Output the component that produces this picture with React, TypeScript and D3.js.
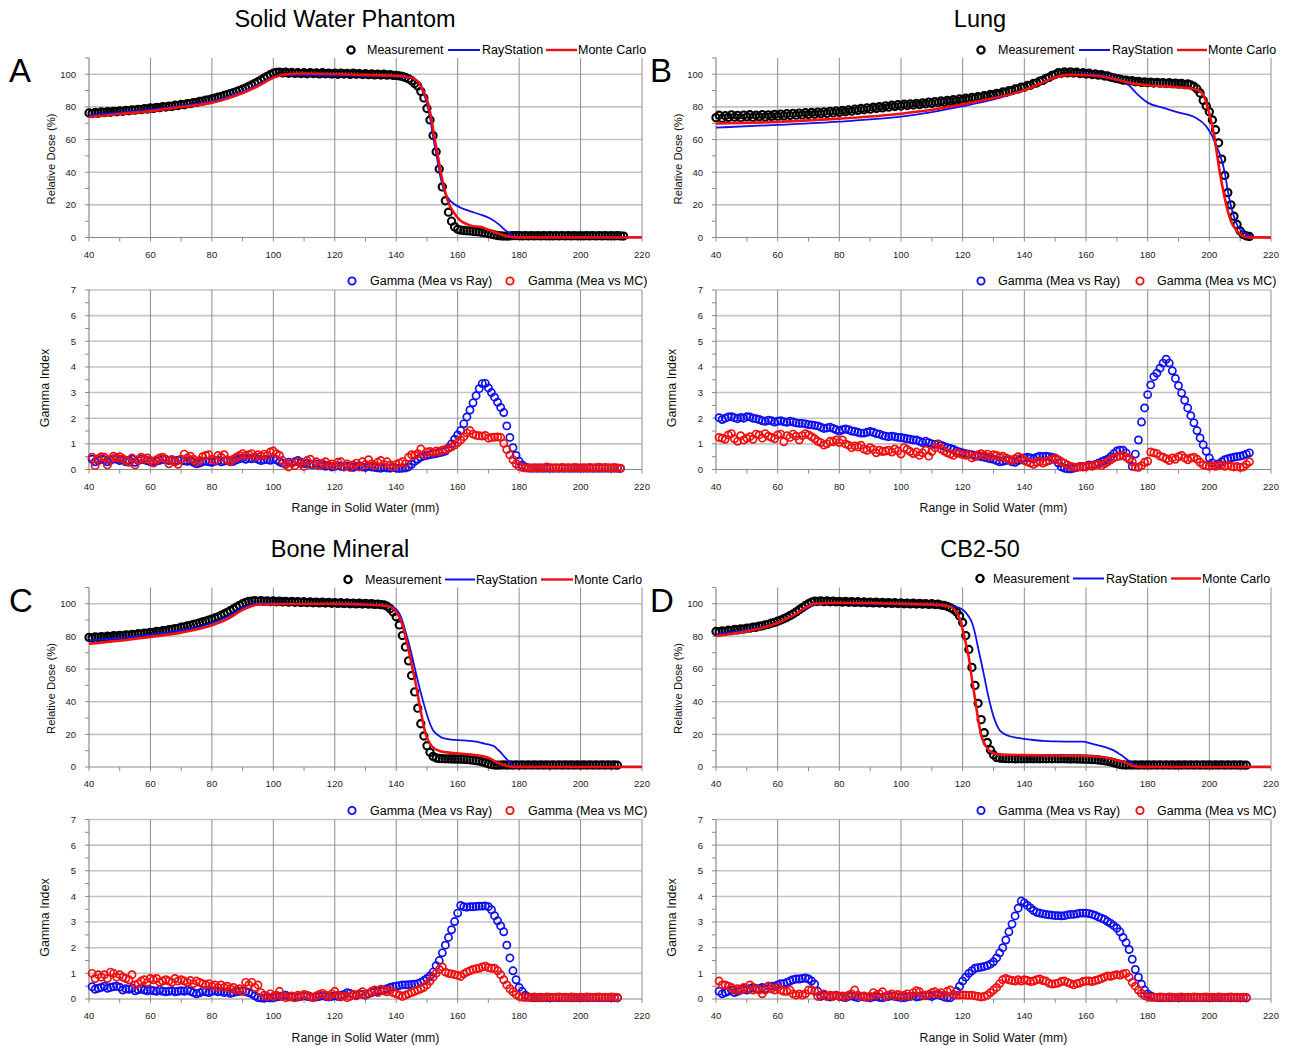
import React from 'react'
import * as d3 from 'd3'

// ---- measured depth dose (circles), one value per mm starting at *Start ----
const measAStart = 40
const measA = [
  76.3, 75.9, 76.6, 76.1, 76.9, 76.5, 77.1, 76.7, 77.3, 77.0,
  77.6, 77.3, 77.9, 77.6, 78.2, 78.0, 78.5, 78.3, 78.9, 78.7,
  79.3, 79.1, 79.7, 79.5, 80.1, 79.9, 80.5, 80.3, 81.0, 80.8,
  81.5, 81.3, 82.0, 82.0, 82.6, 82.7, 83.3, 83.5, 84.1, 84.3,
  84.9, 85.3, 85.9, 86.3, 87.0, 87.5, 88.1, 88.7, 89.4, 90.1,
  90.8, 91.6, 92.5, 93.4, 94.4, 95.4, 96.5, 97.6, 98.7, 99.7,
  100.6, 101.1, 101.3, 100.8, 101.2, 100.6, 101.1, 100.5, 101.0, 100.4,
  100.9, 100.3, 101.0, 100.4, 100.8, 100.2, 100.9, 100.3, 100.7, 100.1,
  100.6, 100.0, 100.7, 100.1, 100.5, 99.9, 100.6, 100.0, 100.4, 99.8,
  100.3, 99.7, 100.2, 99.6, 100.1, 99.5, 100.0, 99.4, 99.8, 99.3,
  99.3, 99.0, 98.6, 98.0, 97.2, 96.0, 94.3, 92.8, 89.5, 85.5,
  79.0, 72.0, 62.5, 52.5, 42.0, 31.0, 22.5, 15.5, 10.0, 6.5,
  5.0, 4.5, 4.3, 4.1, 4.0, 3.8, 3.6, 3.4, 3.1, 2.8,
  2.4, 2.0, 1.6, 1.2, 1.0, 0.9, 0.9, 1.0, 1.1, 1.1,
  1.1, 1.0, 1.1, 1.0, 1.1, 1.0, 1.1, 1.0, 1.1, 1.0,
  1.1, 1.0, 1.1, 1.0, 1.1, 1.0, 1.1, 1.0, 1.1, 1.0,
  1.1, 1.0, 1.1, 1.0, 1.1, 1.0, 1.1, 1.0, 1.1, 1.0,
  1.1, 1.0, 1.1, 1.0, 0.9,
]

const measBStart = 40
const measB = [
  73.4, 74.9, 73.0, 74.6, 73.5, 75.1, 73.7, 74.8, 73.3, 75.0,
  73.9, 75.2, 73.6, 74.9, 74.0, 75.3, 73.8, 75.1, 74.2, 75.4,
  74.3, 75.6, 74.5, 75.8, 74.7, 76.0, 74.9, 76.2, 75.1, 76.4,
  75.3, 76.6, 75.5, 76.8, 75.8, 77.0, 76.0, 77.3, 76.3, 77.5,
  76.6, 77.8, 77.0, 78.2, 77.4, 78.6, 77.8, 79.0, 78.2, 79.4,
  78.6, 79.8, 79.0, 80.2, 79.4, 80.6, 79.8, 81.0, 80.2, 81.4,
  80.5, 81.6, 80.8, 81.9, 81.1, 82.2, 81.4, 82.5, 81.8, 82.9,
  82.1, 83.2, 82.5, 83.6, 82.9, 84.0, 83.3, 84.4, 83.8, 84.9,
  84.2, 85.3, 84.7, 85.8, 85.2, 86.3, 85.8, 86.9, 86.5, 87.6,
  87.2, 88.3, 88.0, 89.1, 88.9, 90.0, 89.9, 91.0, 91.0, 92.1,
  92.0, 93.2, 93.2, 94.4, 94.6, 95.8, 96.2, 97.5, 98.0, 99.3,
  99.8, 100.9, 100.6, 101.4, 100.8, 101.5, 100.7, 101.2, 100.4, 100.9,
  100.1, 100.6, 99.8, 100.2, 99.4, 99.7, 98.9, 98.9, 98.2, 97.8,
  97.3, 97.0, 96.4, 96.4, 95.8, 96.0, 95.4, 95.6, 95.0, 95.3,
  94.8, 95.2, 94.6, 95.0, 94.5, 94.9, 94.3, 94.8, 94.2, 94.6,
  94.0, 94.4, 93.6, 94.0, 93.4, 92.5, 91.0, 88.5, 84.0, 80.5,
  77.0, 72.0, 66.0, 58.0, 48.0, 38.0, 27.5, 20.0, 13.0, 8.0,
  4.0, 1.8, 1.0, 0.6,
]

const measCStart = 40
const measC = [
  79.4, 79.0, 79.7, 79.3, 79.9, 79.5, 80.1, 79.8, 80.4, 80.1,
  80.6, 80.3, 80.9, 80.7, 81.2, 81.0, 81.6, 81.4, 82.0, 81.9,
  82.5, 82.4, 83.0, 82.9, 83.5, 83.5, 84.1, 84.2, 84.8, 84.9,
  85.6, 85.8, 86.4, 86.7, 87.3, 87.7, 88.3, 88.8, 89.4, 90.0,
  90.6, 91.3, 92.0, 92.9, 93.7, 94.7, 95.7, 96.8, 97.9, 99.0,
  100.0, 100.8, 101.4, 101.6, 101.9, 101.5, 101.9, 101.4, 101.8, 101.3,
  101.7, 101.2, 101.6, 101.1, 101.5, 101.0, 101.4, 100.9, 101.3, 100.8,
  101.2, 100.7, 101.1, 100.6, 101.0, 100.5, 100.9, 100.4, 100.8, 100.3,
  100.7, 100.2, 100.6, 100.1, 100.5, 100.0, 100.4, 99.9, 100.3, 99.8,
  100.2, 99.7, 100.0, 99.6, 99.8, 99.4, 99.3, 98.5, 97.0, 95.0,
  92.0, 87.0, 80.5, 73.5, 65.0, 56.0, 46.0, 36.0, 26.5, 19.0,
  13.0, 9.0, 6.5, 5.5, 5.2, 5.1, 5.0, 5.0, 4.9, 4.9,
  4.8, 4.8, 4.7, 4.6, 4.4, 4.2, 3.9, 3.6, 3.1, 2.6,
  2.0, 1.5, 1.2, 1.1, 1.2, 1.3, 1.2, 1.3, 1.2, 1.3,
  1.2, 1.3, 1.2, 1.3, 1.2, 1.3, 1.2, 1.3, 1.2, 1.3,
  1.2, 1.3, 1.2, 1.3, 1.2, 1.3, 1.2, 1.3, 1.2, 1.3,
  1.2, 1.3, 1.2, 1.3, 1.2, 1.3, 1.2, 1.3, 1.2, 1.3,
  1.2, 1.3, 1.1,
]

const measDStart = 40
const measD = [
  83.0, 82.7, 83.4, 83.1, 83.8, 83.5, 84.2, 84.0, 84.6, 84.5,
  85.1, 85.0, 85.6, 85.6, 86.3, 86.4, 87.1, 87.4, 88.1, 88.6,
  89.3, 90.0, 90.8, 91.7, 92.7, 93.8, 95.0, 96.3, 97.6, 98.9,
  100.0, 101.0, 101.6, 101.4, 101.8, 101.3, 101.7, 101.2, 101.6, 101.1,
  101.5, 101.0, 101.4, 100.9, 101.3, 100.8, 101.2, 100.7, 101.1, 100.6,
  101.0, 100.5, 100.9, 100.4, 100.8, 100.3, 100.7, 100.2, 100.6, 100.1,
  100.5, 100.0, 100.4, 99.9, 100.3, 99.8, 100.2, 99.7, 100.1, 99.6,
  100.0, 99.5, 99.7, 99.2, 99.0, 98.4, 97.5, 96.5, 95.0, 92.5,
  88.5, 80.5, 72.0, 61.0, 50.0, 39.0, 29.0, 21.0, 15.0, 10.5,
  7.5, 5.8, 5.5, 5.3, 5.2, 5.1, 5.1, 5.0, 5.1, 5.0,
  5.1, 5.0, 5.1, 5.0, 5.1, 5.0, 5.1, 5.0, 5.1, 5.0,
  5.1, 5.0, 5.1, 5.0, 5.0, 4.9, 5.0, 4.9, 4.9, 4.8,
  4.8, 4.7, 4.6, 4.5, 4.3, 4.1, 3.8, 3.5, 3.1, 2.6,
  2.1, 1.6, 1.3, 1.2, 1.3, 1.2, 1.3, 1.2, 1.3, 1.2,
  1.3, 1.2, 1.3, 1.2, 1.3, 1.2, 1.3, 1.2, 1.3, 1.2,
  1.3, 1.2, 1.3, 1.2, 1.3, 1.2, 1.3, 1.2, 1.3, 1.2,
  1.3, 1.2, 1.3, 1.2, 1.3, 1.2, 1.3, 1.2, 1.3, 1.2,
  1.3, 1.2, 1.1,
]

// ---- calculated dose curves, [depth mm, dose %] ----
const rayA = [
  [40, 75.0], [50, 76.6], [60, 78.3], [70, 80.6], [80, 83.6], [85, 86.0], [90, 89.4],
  [95, 93.6], [100, 98.2], [103, 99.5], [110, 99.4], [120, 99.2], [130, 99.0], [140, 98.6],
  [144, 98.0], [146, 96.8], [147.6, 94], [148.5, 90], [150, 82], [151.1, 72], [152.2, 59.6],
  [153.3, 48.4], [154.4, 37], [155.5, 29], [156.9, 24], [158.6, 20.8], [160.8, 18.4],
  [164, 16.1], [167.3, 14.1], [170.6, 11.6], [173.3, 8.2], [175.5, 4.5], [177.2, 2.0],
  [178.3, 0.8], [179.3, 0.3], [185, 0.2], [220, 0.2],
]
const mcA = [
  [40, 73.8], [50, 75.6], [60, 77.4], [70, 79.9], [80, 82.6], [85, 85.2], [90, 88.5],
  [95, 92.8], [100, 97.8], [103, 99.6], [110, 100.4], [120, 100.1], [130, 99.6], [140, 99.1],
  [145, 97.8], [147.6, 94], [148.7, 90], [150.4, 82], [151.5, 72], [152.6, 59.6],
  [153.7, 48.4], [154.8, 37], [155.8, 29], [156.9, 21.8], [158.6, 15.7], [160.8, 10.6],
  [163, 8.2], [165, 6.9], [167.3, 6.5], [169.5, 5.1], [171.7, 3.5], [173.9, 2.0],
  [176, 0.8], [178, 0.2], [180, 0.05], [220, 0],
]
const rayB = [
  [40, 67.3], [60, 69.0], [80, 71.0], [100, 74.0], [110, 76.8], [120, 80.4], [130, 84.6],
  [140, 90.3], [145, 94.0], [150, 98.0], [155, 99.8], [160, 100.0], [165, 99.4], [170, 97.2],
  [172, 95.8], [174, 93.0], [176.7, 87.7], [180, 82.6], [184.8, 79.5], [190.1, 76.5],
  [195.5, 73.4], [198.9, 68.3], [200.9, 62.2], [202.3, 56], [203.6, 50], [205, 39.7],
  [206.3, 25.4], [207.6, 15.1], [209.2, 7], [211.6, 2.5], [213.7, 0.8], [215, 0.2], [220, 0],
]
const mcB = [
  [40, 69.8], [60, 70.8], [80, 72.8], [100, 75.8], [110, 78.2], [120, 81.6], [130, 85.4],
  [140, 90.2], [145, 94.2], [150, 98.2], [155, 99.6], [160, 99.4], [165, 98.6], [170, 96.6],
  [175, 94.4], [180, 93.2], [190, 92.0], [195, 91.0], [197, 89.5], [198.2, 86.7],
  [200.2, 74.4], [201.6, 62.2], [202.9, 45.8], [204.2, 31.5], [205.6, 19.2], [207, 10],
  [209, 3.9], [211, 0.8], [213, 0.1], [220, 0],
]
const rayC = [
  [40, 77.5], [50, 79.0], [60, 81.0], [70, 83.6], [80, 88.2], [85, 92.0], [90, 97.5],
  [93, 99.8], [95, 100.2], [100, 100.2], [110, 100.0], [120, 99.6], [130, 99.2], [137, 98.8],
  [139, 97.8], [140, 96.5], [141, 94], [142, 89.5], [143, 83], [144, 76.5], [145, 69],
  [146, 61], [147, 53], [148, 45.5], [149, 38.5], [150, 32], [151, 26.5], [152, 22.5],
  [153, 20.4], [154, 19], [155, 17.8], [158, 16.8], [162, 16.3], [166, 15.5], [168, 14.7],
  [170, 13.8], [172, 12.5], [173, 10.8], [174, 9], [175, 6.8], [176, 4.8], [177, 2.8],
  [178, 1.0], [179, 0.3], [180, 0.2], [220, 0.2],
]
const mcC = [
  [40, 75.5], [50, 77.4], [60, 79.7], [70, 82.3], [80, 86.8], [85, 90.6], [90, 96.2],
  [93, 98.6], [95, 99.5], [100, 99.6], [110, 100.0], [120, 100.0], [130, 99.5], [137, 98.6],
  [139, 97], [140, 95], [141, 92], [142, 87], [143, 80], [144, 72], [145, 63], [146.1, 53.5],
  [147.9, 35], [149.5, 20.8], [151.6, 12.7], [154.3, 9.6], [158.4, 8.6], [164.5, 7.6],
  [168.7, 6.5], [170.5, 5.3], [172.1, 3.5], [174.8, 1.4], [176.5, 0.4], [178, 0.1], [220, 0],
]
const rayD = [
  [40, 81.2], [50, 83.8], [55, 85.6], [60, 88.3], [65, 92.5], [70, 98.0], [72, 99.8],
  [75, 100.2], [80, 100.2], [90, 100.0], [100, 99.6], [110, 99.2], [115, 98.6], [118, 98],
  [120, 96.3], [121, 94.5], [122, 92], [123, 88.5], [124, 82], [125, 73], [126, 64.5],
  [127, 55.5], [128, 46], [129, 38], [130, 31], [131, 26], [132, 22.5], [133, 20.8],
  [135, 19], [138, 17.8], [142, 16.8], [146, 16], [150, 15.7], [156, 15.5], [159, 15.5],
  [161, 14.8], [163, 13.7], [165, 12.8], [167, 11.7], [169, 10.2], [171, 7.8], [172, 6.5],
  [173, 5], [174, 3.6], [175, 2.3], [176, 1.2], [177, 0.6], [178, 0.3], [180, 0.2], [220, 0.2],
]
const mcD = [
  [40, 80.2], [50, 83.2], [55, 85.2], [60, 88.2], [65, 92.8], [70, 98.6], [72, 100.0],
  [80, 100.6], [90, 100.4], [100, 100.0], [110, 99.5], [115, 98.6], [117, 97], [118, 95],
  [119, 91], [120, 84], [121, 76], [122, 67], [123, 54], [124, 42], [125, 29.5], [126, 19.5],
  [127, 14.5], [128, 11.5], [129, 9.5], [130, 8.5], [132, 7.6], [140, 7.3], [150, 7.0],
  [160, 6.8], [164, 6.3], [167, 5.5], [170, 4.2], [172, 3.2], [174, 1.7], [175, 0.8],
  [176, 0.4], [178, 0.1], [220, 0],
]

// ---- gamma index, one value per mm starting at *Start ----
const gamAStart = 41
const gamRayA = [
  0.40, 0.30, 0.35, 0.42, 0.38, 0.30, 0.36, 0.42, 0.40, 0.35,
  0.38, 0.30, 0.36, 0.40, 0.28, 0.35, 0.40, 0.38, 0.34, 0.30,
  0.28, 0.33, 0.36, 0.40, 0.38, 0.35, 0.38, 0.34, 0.36, 0.38,
  0.34, 0.32, 0.35, 0.28, 0.22, 0.25, 0.30, 0.33, 0.30, 0.28,
  0.32, 0.35, 0.30, 0.33, 0.36, 0.30, 0.32, 0.38, 0.42, 0.45,
  0.40, 0.44, 0.42, 0.45, 0.40, 0.35, 0.38, 0.40, 0.36, 0.42,
  0.38, 0.30, 0.25, 0.20, 0.28, 0.25, 0.30, 0.35, 0.28, 0.22,
  0.25, 0.20, 0.18, 0.22, 0.15, 0.18, 0.12, 0.15, 0.10, 0.12,
  0.15, 0.12, 0.10, 0.14, 0.12, 0.08, 0.12, 0.15, 0.10, 0.08,
  0.12, 0.10, 0.08, 0.06, 0.05, 0.08, 0.06, 0.05, 0.08, 0.05,
  0.04, 0.05, 0.06, 0.10, 0.20, 0.32, 0.40, 0.48, 0.52, 0.55,
  0.58, 0.60, 0.62, 0.65, 0.68, 0.72, 0.85, 1.00, 1.18, 1.35,
  1.52, 1.78, 2.05, 2.32, 2.60, 2.88, 3.15, 3.35, 3.36, 3.18,
  3.00, 2.82, 2.62, 2.42, 2.22, 1.70, 1.25, 0.85, 0.55, 0.32,
  0.18, 0.10, 0.06, 0.05, 0.05, 0.05, 0.05, 0.05, 0.05, 0.05,
  0.05, 0.05, 0.05, 0.05, 0.05, 0.05, 0.05, 0.05, 0.05, 0.05,
  0.05, 0.05, 0.05, 0.05, 0.05, 0.05, 0.05, 0.05, 0.05, 0.05,
  0.05, 0.05, 0.04,
]
const gamMcA = [
  0.48, 0.15, 0.42, 0.50, 0.48, 0.18, 0.40, 0.52, 0.45, 0.50,
  0.42, 0.35, 0.28, 0.45, 0.18, 0.38, 0.48, 0.40, 0.45, 0.35,
  0.25, 0.38, 0.45, 0.48, 0.40, 0.22, 0.38, 0.30, 0.20, 0.40,
  0.60, 0.45, 0.52, 0.40, 0.30, 0.35, 0.50, 0.55, 0.58, 0.40,
  0.35, 0.55, 0.48, 0.58, 0.38, 0.32, 0.40, 0.48, 0.55, 0.62,
  0.55, 0.58, 0.62, 0.50, 0.58, 0.52, 0.60, 0.55, 0.68, 0.72,
  0.62, 0.55, 0.35, 0.20, 0.10, 0.25, 0.15, 0.30, 0.22, 0.12,
  0.35, 0.40, 0.20, 0.30, 0.15, 0.25, 0.30, 0.18, 0.22, 0.15,
  0.28, 0.30, 0.12, 0.22, 0.08, 0.18, 0.25, 0.10, 0.30, 0.20,
  0.38, 0.22, 0.15, 0.28, 0.35, 0.20, 0.30, 0.18, 0.10, 0.20,
  0.25, 0.30, 0.22, 0.48, 0.58, 0.55, 0.62, 0.80, 0.58, 0.68,
  0.70, 0.66, 0.72, 0.70, 0.75, 0.78, 0.82, 0.88, 0.95, 1.05,
  1.15, 1.28, 1.42, 1.52, 1.38, 1.33, 1.32, 1.30, 1.33, 1.22,
  1.25, 1.26, 1.27, 1.25, 1.02, 0.78, 0.57, 0.38, 0.22, 0.12,
  0.08, 0.06, 0.06, 0.06, 0.07, 0.06, 0.07, 0.06, 0.10, 0.07,
  0.06, 0.07, 0.06, 0.08, 0.06, 0.07, 0.06, 0.08, 0.07, 0.06,
  0.07, 0.06, 0.08, 0.06, 0.07, 0.09, 0.06, 0.08, 0.07, 0.06,
  0.08, 0.06, 0.05,
]

const gamBStart = 41
const gamRayB = [
  2.02, 1.95, 2.00, 2.05, 2.06, 2.02, 1.98, 2.03, 2.00, 2.06,
  2.05, 2.00, 1.98, 1.95, 1.90, 1.88, 1.92, 1.90, 1.85, 1.88,
  1.90, 1.86, 1.84, 1.88, 1.85, 1.82, 1.80, 1.80, 1.78, 1.75,
  1.74, 1.72, 1.70, 1.65, 1.60, 1.62, 1.65, 1.60, 1.55, 1.50,
  1.55, 1.58, 1.55, 1.50, 1.48, 1.45, 1.42, 1.42, 1.45, 1.48,
  1.45, 1.40, 1.38, 1.33, 1.30, 1.28, 1.30, 1.28, 1.25, 1.25,
  1.22, 1.20, 1.18, 1.15, 1.15, 1.10, 1.05, 1.10, 1.05, 1.00,
  0.98, 1.00, 0.95, 0.90, 0.85, 0.82, 0.78, 0.72, 0.68, 0.65,
  0.62, 0.60, 0.58, 0.55, 0.52, 0.50, 0.48, 0.45, 0.42, 0.40,
  0.35, 0.30, 0.32, 0.35, 0.38, 0.30, 0.28, 0.35, 0.40, 0.45,
  0.48, 0.45, 0.42, 0.48, 0.52, 0.50, 0.52, 0.50, 0.48, 0.40,
  0.25, 0.10, 0.05, 0.03, 0.03, 0.05, 0.08, 0.12, 0.10, 0.12,
  0.18, 0.15, 0.20, 0.25, 0.30, 0.35, 0.40, 0.50, 0.62, 0.72,
  0.75, 0.75, 0.65, 0.40, 0.12, 0.60, 1.15, 1.85, 2.40, 2.92,
  3.30, 3.62, 3.76, 3.95, 4.15, 4.30, 4.15, 3.85, 3.55, 3.27,
  2.98, 2.70, 2.40, 2.10, 1.82, 1.52, 1.23, 0.97, 0.71, 0.45,
  0.26, 0.15, 0.22, 0.30, 0.38, 0.42, 0.45, 0.48, 0.50, 0.52,
  0.55, 0.60, 0.65,
]
const gamMcB = [
  1.25, 1.22, 1.18, 1.35, 1.40, 1.20, 1.10, 1.32, 1.15, 1.22,
  1.28, 1.18, 1.38, 1.35, 1.22, 1.40, 1.30, 1.25, 1.20, 1.35,
  1.38, 1.08, 1.32, 1.25, 1.38, 1.30, 1.15, 1.32, 1.40, 1.35,
  1.28, 1.20, 1.10, 1.05, 0.95, 1.00, 1.10, 1.08, 1.15, 1.05,
  1.15, 1.00, 0.95, 0.85, 0.92, 0.88, 0.95, 0.80, 0.75, 0.85,
  0.78, 0.65, 0.75, 0.70, 0.72, 0.75, 0.68, 0.80, 0.72, 0.60,
  0.85, 0.78, 0.70, 0.62, 0.68, 0.55, 0.65, 0.75, 0.52, 0.70,
  0.85, 0.98, 0.80, 0.72, 0.65, 0.60, 0.55, 0.65, 0.62, 0.58,
  0.55, 0.60, 0.45, 0.50, 0.58, 0.62, 0.55, 0.60, 0.50, 0.58,
  0.55, 0.48, 0.52, 0.45, 0.40, 0.35, 0.42, 0.50, 0.45, 0.35,
  0.30, 0.25, 0.20, 0.28, 0.32, 0.25, 0.30, 0.35, 0.40, 0.45,
  0.38, 0.30, 0.25, 0.18, 0.12, 0.10, 0.08, 0.10, 0.12, 0.10,
  0.15, 0.12, 0.18, 0.20, 0.15, 0.22, 0.30, 0.38, 0.45, 0.50,
  0.52, 0.55, 0.48, 0.42, 0.30, 0.10, 0.08, 0.15, 0.28, 0.32,
  0.68, 0.65, 0.62, 0.52, 0.48, 0.42, 0.35, 0.45, 0.40, 0.50,
  0.55, 0.45, 0.38, 0.45, 0.48, 0.40, 0.28, 0.18, 0.15, 0.12,
  0.15, 0.12, 0.15, 0.18, 0.12, 0.15, 0.12, 0.10, 0.12, 0.08,
  0.10, 0.20, 0.30,
]

const gamCStart = 41
const gamRayC = [
  0.48, 0.38, 0.42, 0.45, 0.50, 0.42, 0.45, 0.48, 0.50, 0.46,
  0.35, 0.40, 0.38, 0.42, 0.32, 0.36, 0.40, 0.35, 0.32, 0.35,
  0.32, 0.30, 0.35, 0.30, 0.28, 0.30, 0.32, 0.28, 0.30, 0.32,
  0.30, 0.34, 0.30, 0.25, 0.20, 0.24, 0.30, 0.28, 0.25, 0.30,
  0.32, 0.28, 0.30, 0.25, 0.28, 0.22, 0.25, 0.28, 0.30, 0.32,
  0.28, 0.25, 0.20, 0.12, 0.05, 0.04, 0.03, 0.05, 0.04, 0.05,
  0.08, 0.10, 0.12, 0.15, 0.10, 0.08, 0.06, 0.08, 0.10, 0.12,
  0.10, 0.08, 0.06, 0.08, 0.10, 0.12, 0.10, 0.08, 0.10, 0.12,
  0.10, 0.15, 0.18, 0.25, 0.22, 0.18, 0.15, 0.20, 0.18, 0.15,
  0.20, 0.25, 0.30, 0.28, 0.32, 0.35, 0.40, 0.45, 0.48, 0.50,
  0.52, 0.55, 0.55, 0.56, 0.57, 0.58, 0.60, 0.65, 0.72, 0.80,
  0.90, 1.05, 1.30, 1.50, 1.80, 2.10, 2.40, 2.70, 3.02, 3.35,
  3.65, 3.60, 3.58, 3.60, 3.60, 3.61, 3.62, 3.62, 3.63, 3.60,
  3.48, 3.25, 3.05, 2.85, 2.62, 2.10, 1.60, 1.10, 0.75, 0.45,
  0.30, 0.15, 0.08, 0.05, 0.05, 0.05, 0.05, 0.05, 0.05, 0.05,
  0.05, 0.05, 0.05, 0.05, 0.05, 0.05, 0.05, 0.05, 0.05, 0.05,
  0.05, 0.05, 0.05, 0.05, 0.05, 0.05, 0.05, 0.05, 0.05, 0.05,
  0.05, 0.04,
]
const gamMcC = [
  1.00, 0.80, 0.95, 0.85, 0.95, 0.80, 1.05, 1.00, 0.85, 0.95,
  0.85, 0.80, 0.75, 0.95, 0.55, 0.60, 0.70, 0.75, 0.65, 0.80,
  0.75, 0.80, 0.65, 0.70, 0.75, 0.70, 0.65, 0.80, 0.70, 0.75,
  0.70, 0.65, 0.72, 0.60, 0.70, 0.65, 0.60, 0.55, 0.60, 0.50,
  0.55, 0.45, 0.55, 0.45, 0.50, 0.40, 0.45, 0.35, 0.40, 0.30,
  0.65, 0.55, 0.65, 0.45, 0.55, 0.25, 0.15, 0.10, 0.20, 0.10,
  0.15, 0.30, 0.10, 0.05, 0.08, 0.12, 0.05, 0.15, 0.10, 0.18,
  0.15, 0.10, 0.05, 0.12, 0.18, 0.22, 0.15, 0.10, 0.20, 0.30,
  0.15, 0.08, 0.12, 0.05, 0.10, 0.18, 0.12, 0.20, 0.28, 0.15,
  0.22, 0.30, 0.35, 0.25, 0.38, 0.32, 0.28, 0.35, 0.25, 0.20,
  0.15, 0.10, 0.15, 0.20, 0.25, 0.30, 0.35, 0.40, 0.45, 0.55,
  0.70, 0.85, 1.00, 1.15, 1.25, 1.05, 1.00, 0.98, 0.95, 0.92,
  0.88, 0.98, 1.05, 1.10, 1.15, 1.18, 1.20, 1.25, 1.28, 1.22,
  1.20, 1.20, 1.10, 0.95, 0.75, 0.55, 0.40, 0.28, 0.18, 0.10,
  0.07, 0.06, 0.07, 0.06, 0.08, 0.06, 0.07, 0.06, 0.08, 0.07,
  0.06, 0.07, 0.08, 0.06, 0.07, 0.06, 0.08, 0.07, 0.06, 0.07,
  0.06, 0.08, 0.07, 0.06, 0.07, 0.08, 0.06, 0.07, 0.06, 0.08,
  0.07, 0.06,
]

const gamDStart = 41
const gamRayD = [
  0.30, 0.20, 0.25, 0.30, 0.35, 0.25, 0.30, 0.35, 0.40, 0.35,
  0.40, 0.45, 0.40, 0.40, 0.45, 0.40, 0.50, 0.50, 0.50, 0.55,
  0.60, 0.60, 0.65, 0.70, 0.75, 0.78, 0.78, 0.80, 0.82, 0.78,
  0.70, 0.58, 0.30, 0.10, 0.15, 0.10, 0.08, 0.12, 0.15, 0.10,
  0.08, 0.05, 0.10, 0.12, 0.08, 0.05, 0.10, 0.08, 0.06, 0.05,
  0.08, 0.10, 0.06, 0.05, 0.08, 0.10, 0.12, 0.10, 0.08, 0.06,
  0.05, 0.08, 0.10, 0.12, 0.08, 0.10, 0.12, 0.15, 0.12, 0.10,
  0.15, 0.18, 0.12, 0.08, 0.05, 0.05, 0.15, 0.30, 0.50, 0.70,
  0.85, 1.00, 1.10, 1.20, 1.22, 1.24, 1.27, 1.30, 1.36, 1.45,
  1.60, 1.80, 2.00, 2.30, 2.62, 2.92, 3.24, 3.54, 3.82, 3.75,
  3.65, 3.55, 3.45, 3.38, 3.35, 3.32, 3.30, 3.28, 3.27, 3.25,
  3.25, 3.24, 3.25, 3.28, 3.30, 3.30, 3.32, 3.35, 3.35, 3.35,
  3.33, 3.30, 3.26, 3.20, 3.15, 3.10, 3.02, 2.95, 2.86, 2.76,
  2.62, 2.40, 2.20, 1.93, 1.55, 1.15, 0.85, 0.58, 0.35, 0.20,
  0.12, 0.07, 0.05, 0.05, 0.05, 0.05, 0.05, 0.05, 0.05, 0.05,
  0.05, 0.05, 0.05, 0.05, 0.05, 0.05, 0.05, 0.05, 0.05, 0.05,
  0.05, 0.05, 0.05, 0.05, 0.05, 0.05, 0.05, 0.05, 0.05, 0.05,
  0.05, 0.04,
]
const gamMcD = [
  0.70, 0.55, 0.55, 0.50, 0.45, 0.35, 0.40, 0.35, 0.45, 0.40,
  0.55, 0.35, 0.40, 0.35, 0.20, 0.35, 0.50, 0.40, 0.35, 0.45,
  0.35, 0.30, 0.30, 0.35, 0.20, 0.15, 0.20, 0.15, 0.20, 0.35,
  0.35, 0.30, 0.10, 0.15, 0.20, 0.10, 0.15, 0.10, 0.15, 0.10,
  0.12, 0.08, 0.15, 0.20, 0.35, 0.15, 0.10, 0.12, 0.08, 0.10,
  0.25, 0.15, 0.20, 0.28, 0.10, 0.15, 0.20, 0.12, 0.18, 0.10,
  0.15, 0.20, 0.10, 0.25, 0.32, 0.28, 0.15, 0.12, 0.18, 0.25,
  0.28, 0.20, 0.25, 0.15, 0.30, 0.35, 0.18, 0.15, 0.15, 0.16,
  0.15, 0.14, 0.15, 0.12, 0.10, 0.08, 0.10, 0.15, 0.25, 0.35,
  0.45, 0.60, 0.75, 0.80, 0.75, 0.72, 0.70, 0.75, 0.70, 0.75,
  0.72, 0.68, 0.70, 0.75, 0.78, 0.72, 0.70, 0.62, 0.58, 0.60,
  0.62, 0.68, 0.70, 0.65, 0.60, 0.55, 0.60, 0.62, 0.68, 0.70,
  0.70, 0.68, 0.72, 0.75, 0.80, 0.85, 0.90, 0.88, 0.92, 0.95,
  0.92, 0.98, 1.00, 0.85, 0.65, 0.50, 0.35, 0.22, 0.13, 0.08,
  0.06, 0.07, 0.06, 0.08, 0.07, 0.06, 0.08, 0.07, 0.06, 0.07,
  0.08, 0.06, 0.07, 0.06, 0.08, 0.07, 0.06, 0.07, 0.08, 0.06,
  0.07, 0.06, 0.08, 0.07, 0.06, 0.07, 0.08, 0.06, 0.07, 0.06,
  0.07, 0.06,
]

const xTicks = [40, 60, 80, 100, 120, 140, 160, 180, 200, 220]
const doseTicks = [0, 20, 40, 60, 80, 100]
const gammaTicks = [0, 1, 2, 3, 4, 5, 6, 7]

const FONT = '"Liberation Sans", Arial, Helvetica, sans-serif'
const BLUE = '#1010ee'
const RED = '#f01010'

const panels = [
  {
    key: 'A', title: 'Solid Water Phantom', titleX: 345, letterX: 9, x0: 89, x1: 642, top: 0,
    meas: measA, measStart: measAStart, ray: rayA, mc: mcA,
    gRay: gamRayA, gMc: gamMcA, gStart: gamAStart,
    leg: [351, 367, 448, 480, 482, 546, 577, 578],
  },
  {
    key: 'B', title: 'Lung', titleX: 980, letterX: 650, x0: 716, x1: 1271, top: 0,
    meas: measB, measStart: measBStart, ray: rayB, mc: mcB,
    gRay: gamRayB, gMc: gamMcB, gStart: gamBStart,
    leg: [981, 998, 1079, 1110, 1112, 1177, 1207, 1208],
  },
  {
    key: 'C', title: 'Bone Mineral', titleX: 340, letterX: 9, x0: 89, x1: 642, top: 529.5,
    meas: measC, measStart: measCStart, ray: rayC, mc: mcC,
    gRay: gamRayC, gMc: gamMcC, gStart: gamCStart,
    leg: [348, 365, 445, 475, 476, 541, 573, 574],
  },
  {
    key: 'D', title: 'CB2-50', titleX: 980, letterX: 650, x0: 716, x1: 1271, top: 529.5,
    meas: measD, measStart: measDStart, ray: rayD, mc: mcD,
    gRay: gamRayD, gMc: gamMcD, gStart: gamDStart,
    leg: [980, 993, 1073, 1104, 1106, 1171, 1201, 1202],
  },
]

function Panel({ p }: { p: any }) {
  const t = p.top
  const x = d3.scaleLinear().domain([40, 220]).range([p.x0, p.x1])
  const yD = d3.scaleLinear().domain([0, 110]).range([237.5 + t, 57.9 + t])
  const yG = d3.scaleLinear().domain([0, 7]).range([469.5 + t, 290 + t])
  const doseLine = d3.line<number[]>().x(d => x(d[0])).y(d => yD(d[1])).curve(d3.curveMonotoneX)
  const minorX = d3.range(40, 221, 10)
  const minorD = d3.range(0, 111, 10)
  const minorG = d3.range(0, 7.01, 0.5)
  const legY = 50 + t - (p.key === 'D' ? 1 : 0)
  const gLegY = 281 + t
  const gLeg = p.x0 < 300 ? [352, 370, 510, 528] : [981, 998, 1140, 1157]
  const L = p.leg

  const grid = (y: any, yTicks: number[], minor: number[], top: number) => (
    <g>
      {yTicks.filter(v => v > 0).map(v => (
        <line key={'h' + v} x1={p.x0} x2={p.x1} y1={y(v)} y2={y(v)} stroke="#c4c4c4" strokeWidth={1.6} />
      ))}
      {xTicks.filter(v => v > 40).map(v => (
        <line key={'v' + v} x1={x(v)} x2={x(v)} y1={top} y2={y(0)} stroke="#8e8e8e" strokeWidth={1} />
      ))}
      <line x1={p.x0} x2={p.x1} y1={y(0)} y2={y(0)} stroke="#8a8a8a" strokeWidth={1.2} />
      <line x1={p.x0} x2={p.x0} y1={top} y2={y(0)} stroke="#8a8a8a" strokeWidth={1.2} />
      {minorX.map(v => (
        <line key={'tx' + v} x1={x(v)} x2={x(v)} y1={y(0)} y2={y(0) + 4} stroke="#8a8a8a" strokeWidth={1} />
      ))}
      {minor.map(v => (
        <line key={'ty' + v} x1={p.x0 - 4} x2={p.x0} y1={y(v)} y2={y(v)} stroke="#8a8a8a" strokeWidth={1} />
      ))}
      {xTicks.map(v => (
        <text key={'lx' + v} x={x(v)} y={y(0) + 20} textAnchor="middle" fontSize={9.5} fill="#222">{v}</text>
      ))}
      {yTicks.map(v => (
        <text key={'ly' + v} x={p.x0 - 13} y={y(v) + 3.4} textAnchor="end" fontSize={9.5} fill="#222">{v}</text>
      ))}
    </g>
  )

  return (
    <g fontFamily={FONT}>
      <text x={p.titleX} y={27 + t} textAnchor="middle" fontSize={23.5} fill="#000">{p.title}</text>
      <text x={p.letterX} y={82 + t} fontSize={33} fill="#000">{p.key}</text>

      {/* dose panel */}
      {grid(yD, doseTicks, minorD, yD(110))}
      <text transform={`translate(${p.x0 - 34},${159 + t}) rotate(-90)`} textAnchor="middle" fontSize={11.3} fill="#111">Relative Dose (%)</text>
      {p.meas.map((v: number, i: number) => (
        <circle key={'m' + i} cx={x(p.measStart + i)} cy={yD(v)} r={3.6} fill="none" stroke="#000" strokeWidth={2.1} />
      ))}
      <path d={doseLine(p.ray) || ''} fill="none" stroke={BLUE} strokeWidth={1.8} />
      <path d={doseLine(p.mc) || ''} fill="none" stroke={RED} strokeWidth={2.6} />

      {/* dose legend */}
      <circle cx={L[0]} cy={legY} r={3.6} fill="none" stroke="#000" strokeWidth={2.3} />
      <text x={L[1]} y={legY + 4.4} fontSize={12.5} fill="#000">Measurement</text>
      <line x1={L[2]} x2={L[3]} y1={legY} y2={legY} stroke={BLUE} strokeWidth={2} />
      <text x={L[4]} y={legY + 4.4} fontSize={12.5} fill="#000">RayStation</text>
      <line x1={L[5]} x2={L[6]} y1={legY} y2={legY} stroke={RED} strokeWidth={2.4} />
      <text x={L[7]} y={legY + 4.4} fontSize={12.5} fill="#000">Monte Carlo</text>

      {/* gamma panel */}
      {grid(yG, gammaTicks, minorG, yG(7))}
      <text transform={`translate(${p.x0 - 40},${388 + t}) rotate(-90)`} textAnchor="middle" fontSize={12.5} fill="#111">Gamma Index</text>
      {p.gRay.map((v: number, i: number) => (
        <circle key={'gr' + i} cx={x(p.gStart + i)} cy={yG(v)} r={3.6} fill="none" stroke={BLUE} strokeWidth={1.7} />
      ))}
      {p.gMc.map((v: number, i: number) => (
        <circle key={'gm' + i} cx={x(p.gStart + i)} cy={yG(v)} r={3.6} fill="none" stroke={RED} strokeWidth={1.7} />
      ))}
      <text x={(p.x0 + p.x1) / 2} y={512 + t} textAnchor="middle" fontSize={12.3} fill="#111">Range in Solid Water (mm)</text>

      {/* gamma legend */}
      <circle cx={gLeg[0]} cy={gLegY} r={3.6} fill="none" stroke={BLUE} strokeWidth={1.9} />
      <text x={gLeg[1]} y={gLegY + 4.4} fontSize={12.5} fill="#000">Gamma (Mea vs Ray)</text>
      <circle cx={gLeg[2]} cy={gLegY} r={3.6} fill="none" stroke={RED} strokeWidth={1.9} />
      <text x={gLeg[3]} y={gLegY + 4.4} fontSize={12.5} fill="#000">Gamma (Mea vs MC)</text>
    </g>
  )
}

export default function App() {
  return (
    <svg width={1290} height={1046} style={{ position: 'absolute', left: 0, top: 0, background: '#fff' }}>
      <rect width={1290} height={1046} fill="#fff" />
      {panels.map(p => <Panel key={p.key} p={p} />)}
    </svg>
  )
}
